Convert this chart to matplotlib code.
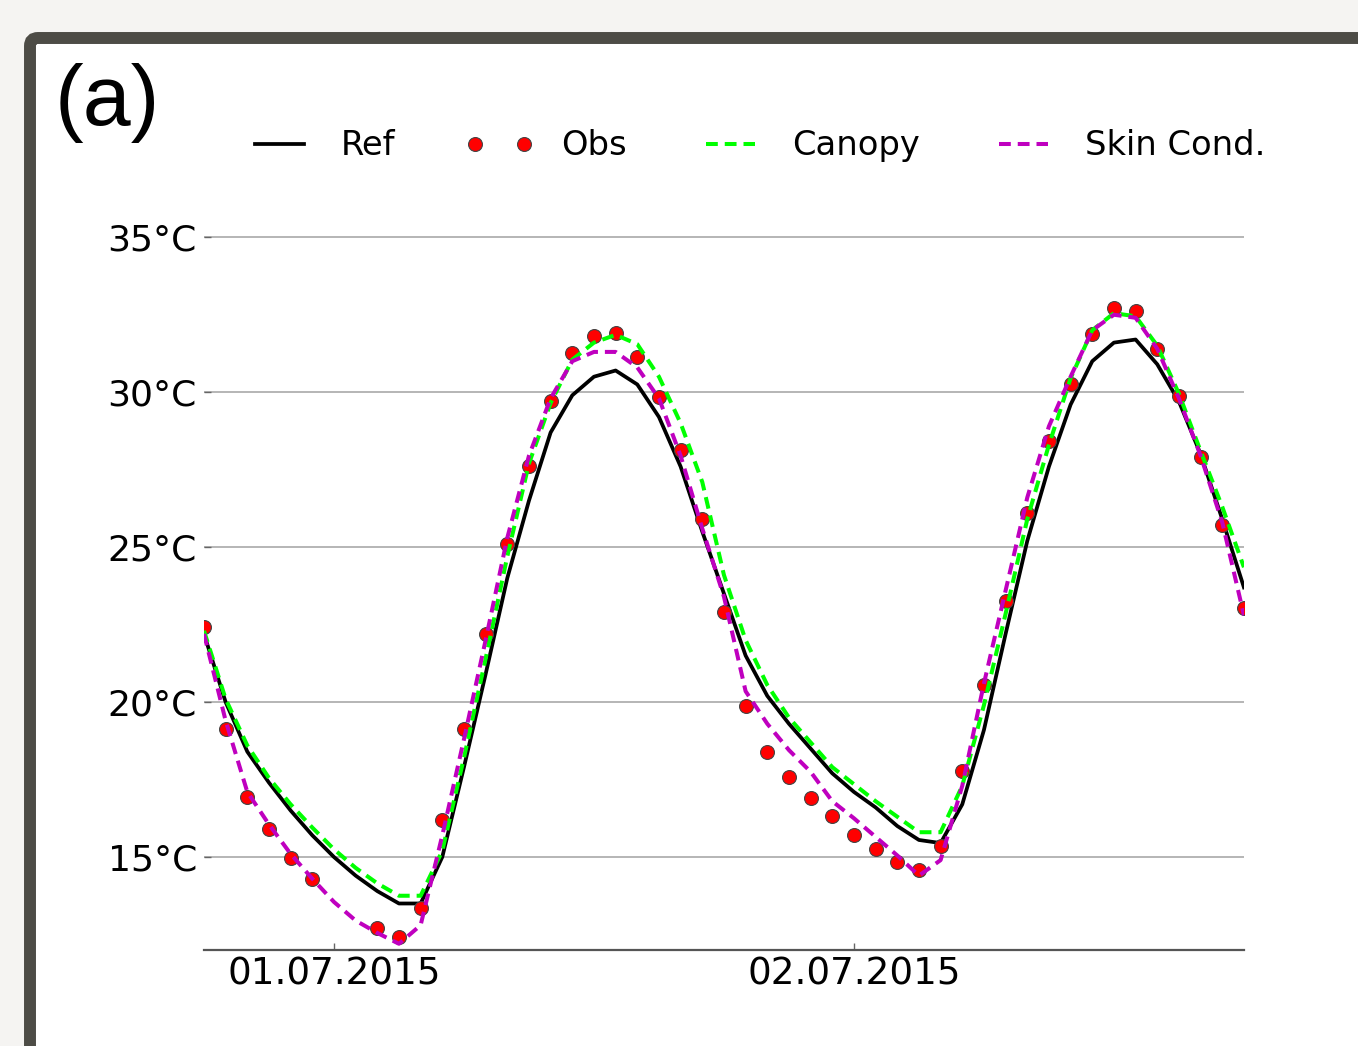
"""Temperaturvergleich Ref / Obs / Canopy / Skin Cond. (Panel a)."""
import matplotlib
matplotlib.use("Agg")
import matplotlib.pyplot as plt
import matplotlib.dates as mdates
from matplotlib.legend_handler import HandlerLine2D
from matplotlib.patches import FancyBboxPatch
import numpy as np
import pandas as pd

nan = np.nan

# stündliche Werte 30.06.2015 18:00 bis 02.07.2015 18:00
times = pd.date_range("2015-06-30 18:00", "2015-07-02 18:00", freq="h")

ref = [22.2, 20.0, 18.4, 17.4, 16.5, 15.7, 15.0, 14.4, 13.9, 13.5, 13.5,
       15.0, 17.9, 20.9, 24.0, 26.5, 28.7, 29.9, 30.5, 30.7, 30.25,
       29.2, 27.6, 25.5, 23.5, 21.5, 20.2, 19.3, 18.5, 17.7, 17.1,
       16.6, 16.0, 15.55, 15.45, 16.7, 19.1, 22.2, 25.2, 27.6, 29.6,
       31.0, 31.6, 31.7, 30.9, 29.7, 28.0, 25.9, 23.7]

obs = [22.43, 19.12, 16.94, 15.92, 14.97, 14.29, nan, nan, 12.71, 12.43, 13.35,
       16.21, 19.14, 22.21, 25.11, 27.63, 29.73, 31.28, 31.80, 31.90, 31.12,
       29.86, 28.12, 25.92, 22.92, 19.88, 18.39, 17.59, 16.91, 16.32, 15.71,
       15.26, 14.84, 14.58, 15.35, 17.78, 20.56, 23.27, 26.11, 28.44, 30.28,
       31.87, 32.71, 32.61, 31.41, 29.89, 27.92, 25.73, 23.05]

canopy = [22.3, 20.1, 18.6, 17.55, 16.7, 15.95, 15.25, 14.65, 14.15, 13.75, 13.75,
          15.2, 18.2, 21.4, 24.7, 27.7, 29.65, 31.05, 31.6, 31.85, 31.55,
          30.5, 29.0, 27.1, 24.1, 22.0, 20.55, 19.5, 18.7, 17.9, 17.35,
          16.8, 16.3, 15.8, 15.8, 17.3, 19.9, 22.85, 25.9, 28.3, 30.45,
          32.0, 32.55, 32.45, 31.5, 29.95, 28.1, 26.3, 24.35]

skin = [22.2, 19.4, 17.1, 16.05, 15.1, 14.3, 13.55, 12.95, 12.55, 12.2, 12.8,
        15.7, 18.8, 22.0, 25.3, 27.95, 29.8, 31.0, 31.3, 31.3, 30.8,
        29.8, 27.95, 25.6, 23.4, 20.35, 19.3, 18.45, 17.75, 16.8, 16.25,
        15.65, 15.05, 14.4, 14.9, 17.3, 20.6, 23.6, 26.6, 28.9, 30.5,
        32.0, 32.5, 32.4, 31.4, 29.8, 27.95, 25.8, 22.8]

ytick_values = [15, 20, 25, 30, 35]
ytick_labels = [f"{v}°C" for v in ytick_values]

plt.rcParams["lines.scale_dashes"] = False

fig = plt.figure(figsize=(13.58, 10.46), dpi=100, facecolor="#f5f4f2")

# Rahmen um das Panel
frame = FancyBboxPatch((0.30, -1.0), 14.0, 11.08,
                       boxstyle="round,pad=0,rounding_size=0.08",
                       transform=fig.dpi_scale_trans,
                       facecolor="white", edgecolor="#4d4c46",
                       linewidth=8.6, zorder=-10)
fig.add_artist(frame)

ax = fig.add_axes([0.1502, 0.0918, 0.7658, 0.711])
ax.set_facecolor("none")

ax.plot(times, ref, color="black", lw=2.7, label="Ref")
ax.plot(times, obs, ls="none", marker="o", ms=10, color="red",
        mec="#444444", mew=0.8, label="Obs")
ax.plot(times, canopy, color="#00ff00", lw=2.9, dashes=(8.5, 5), label="Canopy")
ax.plot(times, skin, color="#bf00bf", lw=2.9, dashes=(8.5, 5), label="Skin Cond.")

ax.set_xlim(times[0], times[-1])
ax.set_ylim(12, 36)

ax.set_yticks(ytick_values)
ax.set_yticklabels(ytick_labels)
ax.xaxis.set_major_locator(mdates.DayLocator())
ax.xaxis.set_major_formatter(mdates.DateFormatter("%d.%m.%Y"))

for side in ["top", "left", "right"]:
    ax.spines[side].set_visible(False)
ax.spines["bottom"].set_color("#555555")
ax.spines["bottom"].set_linewidth(1.6)

ax.grid(axis="y", color="#b5b5b5", lw=1.4)
ax.tick_params(axis="both", direction="in", length=5, width=1,
               color="#666666", labelsize=26, pad=5)
ax.tick_params(axis="x", pad=4, labelsize=26.8)

leg = ax.legend(loc="center left", bbox_to_anchor=(0.1878, 0.8605),
                bbox_transform=fig.transFigure, ncol=4, frameon=False,
                fontsize=24.3, handlelength=1.45, handletextpad=1.1,
                columnspacing=2.35, borderpad=0, borderaxespad=0,
                handler_map={ax.lines[1]: HandlerLine2D(marker_pad=0, numpoints=2)})

fig.text(0.040, 0.940, "(a)", fontsize=62, family="Liberation Sans",
         va="top", ha="left")

fig.savefig("out.png", dpi=100, facecolor=fig.get_facecolor())
plt.close(fig)
